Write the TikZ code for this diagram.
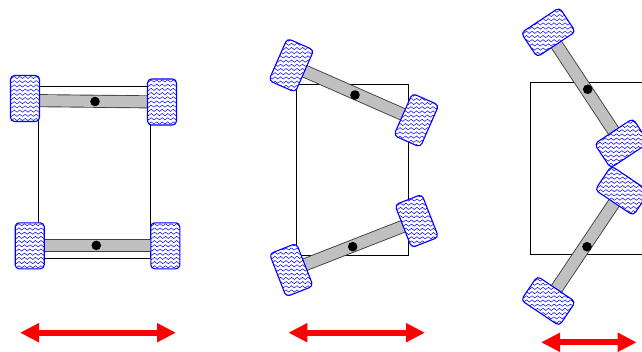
\documentclass[tikz,border=0pt]{standalone}
\usetikzlibrary{arrows.meta,decorations.pathmorphing}

\definecolor{tireblue}{RGB}{0,0,255}
\definecolor{axlegray}{RGB}{192,192,192}
\definecolor{axleedge}{RGB}{64,64,64}
\definecolor{motionred}{RGB}{255,0,0}

\tikzset{
  chassis/.style={draw=black, line width=0.8pt},
  tread/.style={tireblue, line width=0.5pt, decorate,
    decoration={snake, segment length=5.5pt, amplitude=1.1pt}},
  tireedge/.style={draw=tireblue, line width=1.1pt, rounded corners=4pt},
  pivot/.style={fill=black},
  travel/.style={motionred, line width=6pt,
    {Triangle[length=19pt,width=18pt]}-{Triangle[length=19pt,width=18pt]}}
}

% axle bar between two points: dark rim, grey core
\newcommand\axlebar[2]{%
  \draw[axleedge, line width=13pt] #1 -- #2;
  \draw[axlegray, line width=11.2pt] #1 -- #2;}

% tyre at (#1,#2), turned by #3 degrees; tread waves stay horizontal
\newcommand\tire[3]{%
  \begin{scope}[shift={(#1,#2)}]
    \begin{scope}
      \clip[rotate=#3, rounded corners=4pt] (-14.5,-23) rectangle (14.5,23);
      \fill[white] (-40,-40) rectangle (40,40);
      \foreach \k in {-9,...,9}
        \draw[tread] (-40,\k*4.2) -- (40,\k*4.2);
    \end{scope}
    \draw[tireedge, rotate=#3] (-14.5,-23) rectangle (14.5,23);
  \end{scope}}

\begin{document}
\begin{tikzpicture}[x=1pt, y=-1pt]
\useasboundingbox (0,0) rectangle (642,351);
\clip (0,0) rectangle (642,351);

% ---- straight-ahead layout ----
\draw[chassis] (38,86) rectangle (150,258);
\axlebar{(25,100.5)}{(162,102)}
\fill[pivot] (95,101.5) circle (4.8);
\tire{25}{98.5}{0}
\tire{162}{102}{0}
\axlebar{(29.7,245.7)}{(165.3,245.7)}
\fill[pivot] (96.3,245.4) circle (4.8);
\tire{29.7}{245.8}{0}
\tire{165.3}{245.8}{0}

% ---- axles swung inwards ----
\draw[chassis] (296,84) rectangle (408,255);
\axlebar{(291.3,65.3)}{(416.3,120.3)}
\fill[pivot] (355,95) circle (4.8);
\tire{291.3}{65.3}{-23.75}
\tire{416.3}{120.3}{-23.75}
\axlebar{(291.3,270)}{(416.7,221)}
\fill[pivot] (352.7,246.7) circle (4.8);
\tire{291.3}{270}{21.3}
\tire{416.7}{221}{21.3}

% ---- axles swung fully ----
\draw[chassis] (643,82) -- (530,82) -- (530,254) -- (643,254);
\axlebar{(548.3,32.3)}{(621.7,143.3)}
\fill[pivot] (587.7,89.3) circle (4.8);
\tire{548.3}{32.3}{-56.5}
\tire{621.7}{143.3}{-56.5}
\axlebar{(548.3,301)}{(622.3,190.7)}
\fill[pivot] (587,246.7) circle (4.8);
\tire{622.3}{190.7}{56.1}
\tire{548.3}{301}{56.1}

% ---- overall width markers ----
\coordinate (w1a) at (20,332.7);   \coordinate (w1b) at (176,332.7);
\coordinate (w2a) at (288.3,332.7); \coordinate (w2b) at (425,332.7);
\coordinate (w3a) at (541,342.3);  \coordinate (w3b) at (636.7,342.3);
\draw[travel] (w1a) -- (w1b);
\draw[travel] (w2a) -- (w2b);
\draw[travel] (w3a) -- (w3b);
\end{tikzpicture}
\end{document}
